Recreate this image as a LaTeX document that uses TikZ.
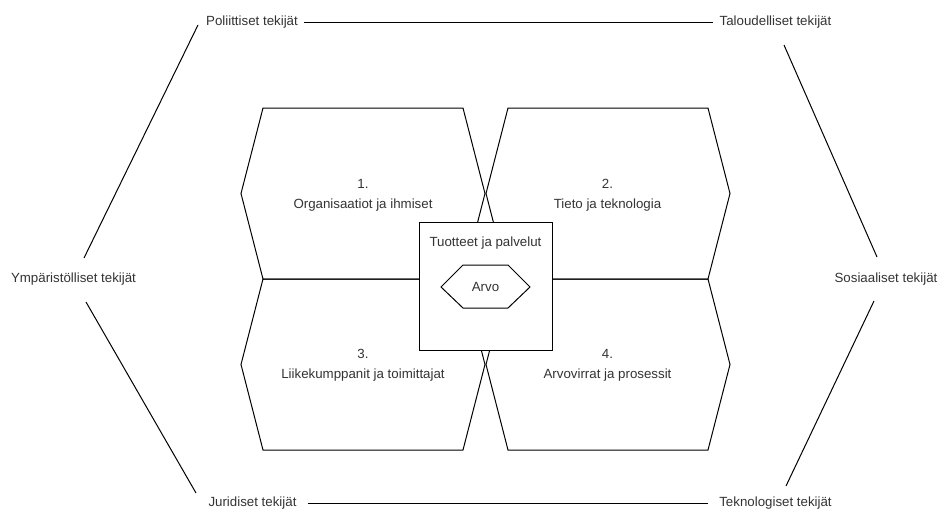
\documentclass[tikz,border=0pt]{standalone}
\usepackage{fontspec}
\setmainfont{Liberation Sans}
\definecolor{txt}{HTML}{333333}
\begin{document}
\begin{tikzpicture}[x=1pt,y=-1pt,
  lbl/.style={font=\fontsize{13.3}{20}\selectfont, text=txt, inner sep=3pt},
  hexline/.style={draw=black, line width=1pt, line join=miter},
  conn/.style={draw=black, line width=1pt}]
\useasboundingbox (0,0) rectangle (938,514);
% four hexagons
\draw[hexline] (263,108) -- (463,108) -- (485,193.5) -- (463,279) -- (263,279) -- (241,193.5) -- cycle;
\draw[hexline] (508,108) -- (708,108) -- (730,193.5) -- (708,279) -- (508,279) -- (486,193.5) -- cycle;
\draw[hexline] (263,279) -- (463,279) -- (485,364.5) -- (463,450) -- (263,450) -- (241,364.5) -- cycle;
\draw[hexline] (508,279) -- (708,279) -- (730,364.5) -- (708,450) -- (508,450) -- (486,364.5) -- cycle;
\node[lbl, align=center] (h1) at (363,195) {1.\\Organisaatiot ja ihmiset};
\node[lbl, align=center] (h2) at (607.5,195) {2.\\Tieto ja teknologia};
\node[lbl, align=center] (h3) at (363,365) {3.\\Liikekumppanit ja toimittajat};
\node[lbl, align=center] (h4) at (607.5,365) {4.\\Arvovirrat ja prosessit};
% central box
\node[draw=black, line width=1pt, fill=white, minimum width=133pt, minimum height=128pt, anchor=north west, inner sep=0pt] (box) at (419,222) {};
\node[lbl] (tp) at (485.5,243) {Tuotteet ja palvelut};
\draw[hexline] (441,287) -- (463,265) -- (508,265) -- (530,287) -- (508,308) -- (463,308) -- cycle;
\node[lbl] (arvo) at (485.5,287) {Arvo};
% outer factors
\node[lbl] (pol) at (252,22) {Poliittiset tekijät};
\node[lbl] (tal) at (775.5,22) {Taloudelliset tekijät};
\node[lbl] (ymp) at (73.5,279) {Ympäristölliset tekijät};
\node[lbl] (sos) at (886,279) {Sosiaaliset tekijät};
\node[lbl] (jur) at (252.5,503) {Juridiset tekijät};
\node[lbl] (tek) at (775.5,503) {Teknologiset tekijät};
\coordinate (a1) at (198,25);
\coordinate (a2) at (84,258);
\coordinate (b1) at (86,302);
\coordinate (b2) at (196,493);
\coordinate (c1) at (784,45);
\coordinate (c2) at (877,257);
\coordinate (e1) at (874,301);
\coordinate (e2) at (786,486);
\draw[conn, shorten <=3pt, shorten >=3pt] (pol.east) -- (tal.west);
\draw[conn, shorten <=8pt, shorten >=8pt] (jur.east) -- (tek.west);
\draw[conn] (a1) -- (a2);
\draw[conn] (b1) -- (b2);
\draw[conn] (c1) -- (c2);
\draw[conn] (e1) -- (e2);
\end{tikzpicture}
\end{document}
